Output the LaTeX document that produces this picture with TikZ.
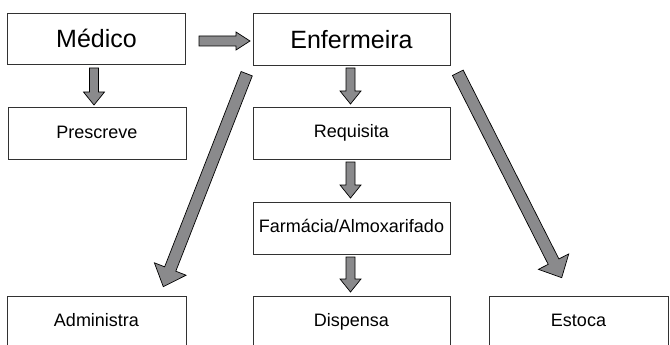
\documentclass[tikz,border=0pt]{standalone}
\usepackage{fontspec}
\setmainfont{Liberation Sans}
\usetikzlibrary{calc}
\definecolor{arrowgray}{RGB}{138,138,140}
\definecolor{boxline}{RGB}{50,50,50}
\tikzset{
  box/.style={draw=boxline, line width=0.8pt, fill=white, rectangle, inner sep=0pt},
  bigtext/.style={font=\fontsize{25}{30}\selectfont, text height=17.9pt, text depth=0pt},
  smalltext/.style={font=\fontsize{18}{22}\selectfont, text height=12.9pt, text depth=3pt},
  barrow/.style={fill=arrowgray, draw=black, line width=0.7pt, line join=miter}
}
\newcommand{\blockarr}[5]{%
  \coordinate (bah) at ($(#2)!#5!(#1)$);
  \filldraw[barrow] ($(#1)!#3!90:(#2)$) -- ($(bah)!#3!-90:(#1)$) -- ($(bah)!#4!-90:(#1)$) -- (#2)
    -- ($(bah)!#4!90:(#1)$) -- ($(bah)!#3!90:(#1)$) -- ($(#1)!#3!-90:(#2)$) -- cycle;
}
\begin{document}
\begin{tikzpicture}[x=1pt,y=-1pt]
\useasboundingbox (0,0) rectangle (670,345);
% boxes
\node[box, bigtext, minimum width=178pt, minimum height=51pt] (med) at (96.5,38.8) {Médico};
\node[box, bigtext, minimum width=197pt, minimum height=52.5pt] (enf) at (351.5,39.5) {Enfermeira};
\node[box, smalltext, minimum width=178pt, minimum height=52pt] (pre) at (97,133.5) {Prescreve};
\node[box, smalltext, minimum width=197pt, minimum height=52pt] (req) at (351.5,133) {Requisita};
\node[box, smalltext, minimum width=197pt, minimum height=52pt] (far) at (351.5,228) {Farmácia/Almoxarifado};
\node[box, smalltext, minimum width=179pt, minimum height=52pt] (adm) at (96.5,322) {Administra};
\node[box, smalltext, minimum width=197pt, minimum height=52pt] (dis) at (351.5,322) {Dispensa};
\node[box, smalltext, minimum width=179pt, minimum height=52pt] (est) at (578.5,322) {Estoca};
% arrow end points
\coordinate (a1s) at (199,41);   \coordinate (a1e) at (250,41);
\coordinate (a2s) at (94,68);    \coordinate (a2e) at (94,105);
\coordinate (a3s) at (350.5,68); \coordinate (a3e) at (350.5,104);
\coordinate (a4s) at (350.5,162);\coordinate (a4e) at (350.5,198);
\coordinate (a5s) at (350.5,257);\coordinate (a5e) at (350.5,292);
\coordinate (a6s) at (246.7,73.7);\coordinate (a6e) at (163.3,286.7);
\coordinate (a7s) at (457.8,72.8);\coordinate (a7e) at (561.7,277.7);
% arrows
\blockarr{a1s}{a1e}{5pt}{9pt}{14pt}
\blockarr{a2s}{a2e}{4.5pt}{10.5pt}{13pt}
\blockarr{a3s}{a3e}{4.5pt}{10.5pt}{13pt}
\blockarr{a4s}{a4e}{4.5pt}{10.5pt}{13pt}
\blockarr{a5s}{a5e}{4.5pt}{10.5pt}{13pt}
\blockarr{a6s}{a6e}{6pt}{17pt}{19pt}
\blockarr{a7s}{a7e}{6pt}{17pt}{18pt}
\end{tikzpicture}
\end{document}
